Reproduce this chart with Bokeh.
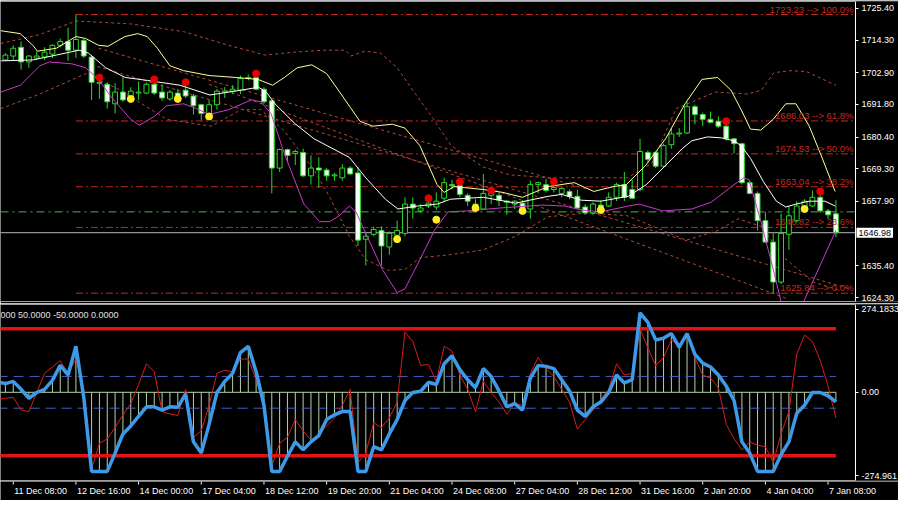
from bokeh.plotting import figure
from bokeh.models import (Range1d, FixedTicker, NumeralTickFormatter, Label, ColumnDataSource,
                          LinearAxis)
from bokeh.layouts import column
from bokeh.embed import file_html
from bokeh.resources import INLINE
from bokeh.core.properties import value

FONT = "Liberation Sans"

# ---------------- price data (4H bars) ----------------
opens = [1707.36, 1708.72, 1711.78, 1706.68, 1708.04, 1708.38, 1709.40, 1712.46, 1713.82, 1710.76,
         1714.16, 1708.38, 1699.19, 1698.85, 1692.04, 1696.12, 1694.42, 1695.78, 1695.78, 1698.85,
         1696.12, 1693.74, 1695.78, 1696.80, 1694.76, 1691.70, 1688.63, 1691.70, 1696.12, 1696.46,
         1696.80, 1700.89, 1701.23, 1697.14, 1693.06, 1669.57, 1676.04, 1674.68, 1675.02, 1666.85,
         1669.57, 1668.89, 1666.85, 1666.17, 1669.57, 1667.87, 1644.72, 1646.42, 1647.78, 1642.00,
         1646.08, 1646.76, 1656.98, 1654.60, 1656.30, 1655.96, 1659.02, 1663.78, 1663.44, 1660.04,
         1656.98, 1655.27, 1660.04, 1660.04, 1658.00, 1656.98, 1657.32, 1655.27, 1663.78, 1663.78,
         1662.08, 1660.72, 1661.40, 1659.70, 1655.96, 1653.91, 1656.64, 1656.30, 1659.36, 1663.78,
         1662.08, 1662.08, 1675.02, 1675.02, 1670.23, 1677.74, 1681.48, 1681.82, 1691.02, 1688.29,
         1686.59, 1685.91, 1684.21, 1679.78, 1678.08, 1664.47, 1660.72, 1651.19, 1643.70, 1629.74,
         1646.42, 1651.19, 1655.96, 1656.30, 1659.36, 1654.60, 1653.57]
highs = [1709.74, 1712.46, 1713.82, 1709.06, 1710.42, 1711.78, 1712.80, 1714.84, 1718.59, 1723.23,
         1714.84, 1709.06, 1700.21, 1699.53, 1699.19, 1701.57, 1697.82, 1699.87, 1699.53, 1699.53,
         1698.85, 1696.80, 1697.14, 1698.51, 1695.44, 1692.04, 1693.40, 1697.14, 1697.82, 1698.51,
         1701.91, 1702.25, 1701.57, 1697.82, 1693.40, 1676.38, 1676.38, 1676.04, 1676.38, 1673.98,
         1673.30, 1669.57, 1667.87, 1670.91, 1670.23, 1669.91, 1646.76, 1649.14, 1649.14, 1647.44,
         1651.19, 1659.36, 1659.36, 1656.98, 1658.34, 1661.06, 1666.17, 1665.49, 1664.13, 1660.72,
         1658.68, 1667.53, 1661.40, 1661.06, 1658.34, 1658.34, 1658.34, 1665.15, 1664.81, 1665.83,
         1663.78, 1662.76, 1662.08, 1662.08, 1656.98, 1657.66, 1658.34, 1661.06, 1664.47, 1668.21,
         1665.49, 1679.78, 1675.70, 1675.36, 1678.08, 1683.53, 1683.53, 1692.72, 1691.70, 1688.97,
         1689.31, 1687.61, 1684.89, 1680.12, 1678.42, 1665.15, 1661.40, 1654.26, 1646.76, 1653.57,
         1656.30, 1658.00, 1658.68, 1661.74, 1660.38, 1655.27, 1658.34]
lows = [1707.02, 1707.36, 1703.95, 1704.63, 1707.36, 1707.36, 1708.04, 1711.78, 1707.02, 1708.04,
        1708.04, 1693.40, 1693.74, 1690.34, 1688.63, 1692.72, 1693.74, 1693.40, 1695.44, 1695.10,
        1693.06, 1693.06, 1693.74, 1694.08, 1688.29, 1686.25, 1687.61, 1690.00, 1694.08, 1695.44,
        1695.44, 1700.21, 1696.80, 1692.04, 1660.72, 1668.21, 1671.61, 1670.60, 1666.51, 1663.78,
        1662.76, 1665.15, 1665.15, 1665.15, 1667.19, 1642.34, 1635.53, 1645.74, 1635.53, 1639.28,
        1645.74, 1645.74, 1651.87, 1653.91, 1655.61, 1654.94, 1658.00, 1662.08, 1659.36, 1656.30,
        1655.96, 1654.94, 1656.98, 1656.30, 1653.23, 1655.27, 1654.26, 1651.87, 1660.72, 1661.06,
        1661.06, 1659.36, 1658.68, 1655.27, 1653.23, 1653.23, 1654.60, 1655.96, 1658.00, 1658.00,
        1658.68, 1661.40, 1671.61, 1669.57, 1669.57, 1676.38, 1680.46, 1681.48, 1684.89, 1684.21,
        1685.23, 1683.53, 1679.10, 1674.68, 1663.78, 1660.38, 1647.78, 1643.36, 1625.84, 1629.06,
        1640.98, 1650.51, 1655.27, 1655.96, 1653.91, 1651.87, 1645.40]
closes = [1709.06, 1711.44, 1706.68, 1708.72, 1708.72, 1710.08, 1712.46, 1713.82, 1710.76, 1714.50,
          1708.72, 1699.53, 1699.53, 1692.72, 1696.12, 1693.40, 1696.46, 1696.12, 1698.85, 1695.78,
          1694.08, 1696.12, 1694.08, 1694.76, 1691.36, 1688.63, 1691.70, 1696.46, 1696.46, 1697.14,
          1700.89, 1701.23, 1697.14, 1692.72, 1669.57, 1676.04, 1673.98, 1675.36, 1666.85, 1669.57,
          1668.89, 1666.85, 1667.19, 1669.57, 1667.53, 1644.38, 1645.74, 1648.12, 1642.34, 1646.76,
          1647.78, 1656.98, 1655.61, 1655.61, 1657.32, 1658.00, 1664.47, 1663.44, 1660.38, 1658.00,
          1656.64, 1660.72, 1660.72, 1658.34, 1657.66, 1658.00, 1655.61, 1663.78, 1664.47, 1661.74,
          1662.76, 1662.42, 1659.70, 1655.61, 1653.91, 1656.98, 1655.61, 1659.36, 1663.78, 1659.36,
          1659.02, 1675.36, 1672.63, 1670.23, 1677.40, 1681.48, 1681.82, 1691.02, 1688.29, 1686.59,
          1685.57, 1684.21, 1679.78, 1678.08, 1664.47, 1660.72, 1651.19, 1643.70, 1629.74, 1646.76,
          1652.89, 1656.30, 1658.00, 1659.36, 1654.60, 1653.23, 1646.98]

# overlay lines: (bar index, price)
upper_idx = [-0.6, 1.9, 3.5, 4.1, 6.5, 9, 10.25, 11.9, 13.1, 15.25, 16.9, 18.1, 19.4, 21, 22.75, 26, 29.4,
             32.25, 34.1, 35.6, 37.25, 39.1, 41, 43.1, 45.25, 46.9, 49.4, 51, 52.9, 55.1, 56, 57.25, 61,
             63.5, 66, 69.25, 72.6, 75.1, 77.6, 79.25, 81.75, 84.25, 86.75, 88.9, 90.9, 92.6, 93.9, 95.1,
             96.4, 98, 99.6, 100.9, 102.6, 104.25, 105.9]
upper_val = [1717.57, 1716.55, 1712.46, 1710.42, 1711.44, 1715.53, 1714.84, 1712.46, 1712.12, 1715.53,
             1716.55, 1715.53, 1711.44, 1705.31, 1703.61, 1701.91, 1701.23, 1700.55, 1698.51, 1701.23,
             1704.63, 1705.65, 1702.59, 1694.42, 1685.91, 1684.21, 1684.89, 1683.53, 1677.40, 1663.78,
             1661.06, 1663.10, 1662.08, 1661.06, 1659.36, 1663.10, 1664.47, 1661.40, 1663.10, 1663.78,
             1670.60, 1679.78, 1692.04, 1700.55, 1701.23, 1696.80, 1689.99, 1683.19, 1682.85, 1686.59,
             1692.04, 1692.04, 1684.21, 1673.08, 1661.40]
mid_idx = [-0.6, 3.5, 6.5, 9.4, 10.6, 12.8, 15.3, 18.1, 22.3, 26.1, 30.1, 32.3, 33.3, 34.4, 36.9, 39.4,
           43.9, 46, 48.5, 50.1, 52.6, 55.1, 56.8, 61, 65.1, 69.3, 71, 73.5, 76, 79.5, 81.8, 84.3, 86.4,
           87.6, 89.6, 91.4, 93, 93.9, 95.1, 96.75, 98.4, 99.6, 100.9, 102.6, 104.6, 105.9]
mid_val = [1707.02, 1707.36, 1709.06, 1710.76, 1709.74, 1704.63, 1701.23, 1700.21, 1698.51, 1695.10,
           1696.80, 1697.82, 1696.12, 1692.04, 1685.23, 1679.78, 1673.30, 1666.17, 1658.68, 1655.27,
           1656.30, 1656.98, 1658.68, 1659.36, 1657.32, 1659.70, 1660.38, 1658.34, 1658.00, 1659.70,
           1663.78, 1670.60, 1676.38, 1679.10, 1680.46, 1680.12, 1679.10, 1677.40, 1672.97, 1664.81,
           1658.00, 1655.96, 1656.98, 1658.00, 1658.00, 1656.30]
lower_idx = [-0.6, 1.9, 4.4, 5.6, 8.5, 10.25, 11.9, 13.5, 16, 17.1, 19, 20.6, 22.75, 24.4, 26, 28.5,
             31.4, 32.6, 33.9, 35.6, 38.1, 40.1, 41.4, 42.6, 43.9, 44.75, 46, 48.1, 50, 51, 52.9, 54.75,
             56.5, 59, 63.1, 68.5, 71.4, 73.5, 76, 79.5, 80.9, 83.9, 87.6, 90.1, 93, 94.25, 94.9, 96.4,
             98, 99, 100.4, 101.9, 106]
lower_val = [1696.12, 1698.51, 1705.31, 1706.67, 1705.99, 1704.63, 1700.55, 1694.42, 1686.59, 1684.55,
             1687.61, 1691.36, 1692.04, 1690.34, 1688.29, 1689.99, 1693.40, 1692.72, 1688.63, 1674.68,
             1656.98, 1650.85, 1650.85, 1652.89, 1656.30, 1654.26, 1646.76, 1634.17, 1626.00, 1627.36,
             1637.57, 1647.78, 1654.26, 1654.60, 1655.61, 1656.64, 1656.30, 1654.94, 1654.26, 1656.30,
             1656.98, 1654.60, 1655.27, 1657.66, 1663.78, 1666.17, 1665.49, 1651.19, 1634.17, 1622.94,
             1617.83, 1622.94, 1647.78]
outer_up_idx = [-0.6, 4.4, 9, 16, 22.75, 28.5, 33.1, 36.9, 40.6, 43.4, 44.1, 45.9, 47.9, 50, 51.9, 54.4,
                56.9, 61, 64.4, 69.4, 79.4, 82.5, 85.6, 90.6, 94.75, 96.5, 98.1, 100.25, 102.25, 106]
outer_up_val = [1713.14, 1716.21, 1720.97, 1719.95, 1717.23, 1712.46, 1709.06, 1710.08, 1710.76, 1710.76,
                1708.72, 1710.42, 1709.74, 1704.63, 1697.14, 1687.61, 1677.40, 1669.91, 1667.19, 1666.17,
                1666.17, 1671.27, 1690.34, 1696.12, 1695.44, 1696.80, 1702.93, 1703.61, 1703.27, 1698.51]
outer_dn_idx = [-0.6, 4.4, 10.25, 14.4, 20.6, 26.25, 30.1, 32.6, 35.6, 39.4, 41.4, 43.9, 46, 48.9, 51,
                52.9, 56.75, 61, 65.1, 69.25, 74.4, 79.4, 86.9, 91, 93.5, 96.5, 99.4, 103.1, 106.25]
outer_dn_val = [1690.34, 1695.44, 1702.59, 1697.14, 1686.59, 1684.21, 1689.99, 1689.99, 1682.51, 1668.89,
                1659.36, 1645.74, 1637.57, 1633.83, 1634.17, 1638.25, 1639.28, 1640.98, 1645.74, 1652.55,
                1653.91, 1652.89, 1644.38, 1647.78, 1651.87, 1649.14, 1638.25, 1629.74, 1627.02]
trend_idx = [[11, 107.75], [26, 99.75], [11.9, 74.4]]
trend_val = [[1705.65, 1627.36], [1698.85, 1623.96], [1711.44, 1662.08]]

# fractal-like dots
red_dot_idx = [12, 19, 23, 32, 54, 58, 62, 70, 92, 104]
red_dot_val = [1701.23, 1700.55, 1699.53, 1702.59, 1659.02, 1664.81, 1661.74, 1664.81, 1685.91, 1661.40]
yel_dot_idx = [16, 22, 26, 50, 55, 60, 66, 76, 102]
yel_dot_val = [1693.74, 1693.74, 1687.61, 1644.72, 1651.53, 1655.61, 1654.60, 1654.94, 1655.27]

# Fibonacci
fib_start = 9
fib_levels = [1723.23, 1686.03, 1674.53, 1663.04, 1648.82, 1625.84]
fib_pcts = ["100.0%", "61.8%", "50.0%", "38.2%", "23.6%", "0.0%"]
green_level = 1654.26
last_price = 1646.98
price_ticks = [1725.40, 1714.30, 1702.90, 1691.80, 1680.40, 1669.30, 1657.90, 1635.40, 1624.30]

# ---------------- oscillator ----------------
osc_idx = list(range(-1, 107))
cci = [32, 27.5, 34.5, 9.4, -18.7, -0.6, 9.4, 37.5, 84.7, 54.6, 145, -15.6, -249, -249, -249, -191.4,
       -131.1, -106, -75.9, -45.8, -45.8, -55.8, -45.8, -46.8, -5.6, -156, -191.4, -101, -0.6, 34.5,
       59.6, 124.9, 145, 64.7, -40.8, -249, -249, -201.4, -156, -181.3, -156, -136.1, -85.9, -70.9,
       -60.8, -60.8, -249, -249, -171.3, -181.3, -131.1, -85.9, -25.7, -0.6, 3.4, 31.5, 24.5, 89.8,
       114.8, 71.7, 39.6, 14.5, 74.7, 49.6, 4.4, -45.8, -35.7, -55.8, 44.6, 84.7, 81.7, 74.7, 39.6, 4.4,
       -55.8, -75.9, -45.8, -30.7, -0.6, 54.6, 29.5, 39.6, 250.4, 220.3, 165, 170, 185.2, 142, 185.2,
       119.9, 91.8, 79.7, 54.6, 19.5, -25.7, -156, -191.4, -249, -249, -249, -196.4, -156, -65.9,
       -40.8, -0.6, -0.6, -11.7, -29.7]
signal = [-22, -18.7, -15.7, -55.8, -60.8, -0.6, 59.6, 79.7, 99.8, 59.6, 104.8, 9.4, -241.6, -161.2,
          -146.2, -111, -70.9, -35.7, 24.5, 89.8, 64.7, -60.8, -67.9, -72.9, 9.4, -141.2, -121.1, -40.8,
          59.6, 69.7, 64.7, 104.8, 104.8, 39.6, -40.8, -231.5, -161.2, -141.2, -85.9, -121.1, -151.2,
          -131.1, -106, -80.9, -40.8, 9.4, -221.5, -191.4, -96, -111, -80.9, -30.7, 190.2, 160, 84.7,
          87.7, 34.5, 145, 130, 54.6, 9.4, -60.8, 34.5, -0.6, -30.7, -68.9, -35.7, -40.8, 59.6, 109.8,
          74.7, 49.6, 9.4, -30.7, -116, -85.9, -55.8, -21.7, 9.4, 89.8, 54.6, 59.6, 200.2, 140, 84.7,
          109.8, 165, 145, 180.1, 109.8, 54.6, 44.6, 14.5, -101, -146.2, -181.3, -156, -166.3, -171.3,
          -221.5, -131.1, -60.8, 119.9, 180.1, 160, 99.8, 19.5, -80.9]
osc_outer = [200, -200]
osc_inner = [50, -50]
osc_axis_ticks = [262, 0, -262]
osc_axis_text = {262: "274.1833", 0: "0.00", -262: "-274.961"}
osc_caption = "000 50.0000 -50.0000 0.0000"

tick_idx = [1, 9, 17, 25, 33, 41, 49, 57, 65, 73, 81, 89, 97, 105]
tick_text = ["11 Dec 08:00", "12 Dec 16:00", "14 Dec 00:00", "17 Dec 04:00", "18 Dec 12:00",
             "19 Dec 20:00", "21 Dec 04:00", "24 Dec 08:00", "27 Dec 04:00", "28 Dec 12:00",
             "31 Dec 16:00", "2 Jan 20:00", "4 Jan 04:00", "7 Jan 08:00"]

# ---------------- layout & styling ----------------
FULL_W = 898          # whole figure width (frame includes the price-scale strip)
PLOT_W = 855          # width of the bar area
X0, X_PLOT_END = -0.625, 108.5
X_FULL_END = X0 + (X_PLOT_END - X0) * FULL_W / PLOT_W
CANDLE = "#2bd82b"
FIB = "#c8281e"
BAND = "#b04a36"
x_range = Range1d(X0, X_FULL_END)


def base_fig(h, yr, top, bottom):
    f = figure(frame_width=FULL_W, frame_height=h, x_range=x_range, y_range=yr,
               output_backend="svg", toolbar_location=None,
               x_axis_location=None, y_axis_location=None,
               background_fill_color="black", border_fill_color="black",
               min_border_left=0, min_border_right=0, min_border_top=top, min_border_bottom=bottom,
               outline_line_color=None)
    f.grid.visible = False
    return f


def border_axis(f, loc, where):
    ax = LinearAxis(fixed_location=loc, bounds=(X0, X_PLOT_END), ticker=FixedTicker(ticks=[]),
                    axis_line_color="white", major_tick_line_color=None, minor_tick_line_color=None)
    f.add_layout(ax, where)


def price_axis(f, ticks, **kw):
    ax = LinearAxis(fixed_location=X_PLOT_END, ticker=FixedTicker(ticks=ticks),
                    axis_line_color="white", major_tick_line_color="white", major_tick_out=3,
                    major_tick_in=0, minor_tick_line_color=None, major_label_standoff=3,
                    major_label_text_color="white", major_label_text_font=FONT,
                    major_label_text_font_size="9px", **kw)
    f.add_layout(ax, "right")


main_yr = Range1d(1622.94, 1727.78)
main = base_fig(300, main_yr, 1, 2)
border_axis(main, main_yr.end, "above")
border_axis(main, main_yr.start, "below")
price_axis(main, price_ticks, formatter=NumeralTickFormatter(format="0.00"))

# fib lines
nf = len(fib_levels)
main.segment(x0=[fib_start] * nf, y0=fib_levels, x1=[X_PLOT_END] * nf, y1=fib_levels,
             line_color=FIB, line_width=1, line_dash="7 3 2 3")
for lv, pc in zip(fib_levels, fib_pcts):
    main.add_layout(Label(x=X_PLOT_END, y=lv, x_offset=-2, text=f"{lv:.2f} --> {pc}",
                          text_align="right", text_baseline="bottom", text_color=FIB,
                          text_font=FONT, text_font_size="9.5px"))

main.segment(x0=[X0], y0=[green_level], x1=[X_PLOT_END], y1=[green_level], line_color="#4fae4f",
             line_dash="8 4 2 4", line_width=1)
main.segment(x0=[X0], y0=[last_price], x1=[X_PLOT_END], y1=[last_price], line_color="#b8b8b8",
             line_width=1)

# dashed envelope / channel lines
main.line(outer_up_idx, outer_up_val, line_color=BAND, line_dash="3 3", line_width=1)
main.line(outer_dn_idx, outer_dn_val, line_color=BAND, line_dash="3 3", line_width=1)
for xs, ys in zip(trend_idx, trend_val):
    main.line(xs, ys, line_color=BAND, line_dash="3 3", line_width=1)

# candles
body_top = [max(o, c) for o, c in zip(opens, closes)]
body_bot = [min(o, c) for o, c in zip(opens, closes)]
fills = ["#000000" if c > o else "#f4fff4" for o, c in zip(opens, closes)]
src = ColumnDataSource(dict(x=list(range(len(opens))), h=highs, l=lows, t=body_top, b=body_bot, f=fills))
main.segment(x0="x", y0="l", x1="x", y1="h", source=src, line_color=CANDLE, line_width=1)
main.vbar(x="x", width=0.62, top="t", bottom="b", fill_color="f", line_color=CANDLE, line_width=1,
          source=src)

# bands
main.line(upper_idx, upper_val, line_color="#ffff99", line_width=1)
main.line(mid_idx, mid_val, line_color="#ffffff", line_width=1)
main.line(lower_idx, lower_val, line_color="#c83cc8", line_width=1)

main.scatter(red_dot_idx, red_dot_val, size=7, fill_color="#e80000", line_color="#e80000")
main.scatter(yel_dot_idx, yel_dot_val, size=7, fill_color="#ffee22", line_color="#ffee22")

main.add_layout(Label(x=X_PLOT_END, y=last_price, x_offset=1, text=f"{last_price:.2f}",
                      text_align="left", text_baseline="middle", text_color="black",
                      background_fill_color="white", text_font=FONT, text_font_size="9px",
                      padding=2))

# ---------------- oscillator panel ----------------
ind_yr = Range1d(-277.7, 276.5)
ind = base_fig(176, ind_yr, 1, 1)
border_axis(ind, ind_yr.end, "above")
border_axis(ind, ind_yr.start, "below")
price_axis(ind, osc_axis_ticks, major_label_overrides=osc_axis_text)

HIST = "#b4d2a8"
n = len(osc_idx)
ind.segment(x0=osc_idx, y0=[0] * n, x1=osc_idx, y1=cci, line_color=HIST, line_width=1)
ind.line([osc_idx[0], osc_idx[-1]], [0, 0], line_color=HIST, line_width=1)
for lv in osc_inner:
    ind.line([osc_idx[0], osc_idx[-1]], [lv, lv], line_color="#4a5ec8", line_width=1, line_dash="10 6")
for lv in osc_outer:
    ind.line([osc_idx[0], osc_idx[-1]], [lv, lv], line_color="#e01414", line_width=3.5)
ind.line(osc_idx, signal, line_color="#d81c1c", line_width=1)
ind.line(osc_idx, cci, line_color="#3d9ae8", line_width=3.5)

ind.add_layout(Label(x=0, y=171, x_units="screen", y_units="screen", text=osc_caption,
                     text_align="left", text_baseline="top", text_color="#e0e0e0",
                     text_font=FONT, text_font_size="9px"))

# ---------------- time scale strip ----------------
strip_yr = Range1d(0, 19)
strip = base_fig(19, strip_yr, 0, 0)
nt = len(tick_idx)
strip.segment(x0=tick_idx, y0=[19] * nt, x1=tick_idx, y1=[16] * nt, line_color="white", line_width=1)
strip.text(x=tick_idx, y=[15] * nt, text=tick_text, x_offset=1,
           text_align="left", text_baseline="top", text_color="white",
           text_font=value(FONT), text_font_size=value("9px"))

layout = column(main, ind, strip, spacing=0)
open("out.html", "w").write(file_html(layout, INLINE))
